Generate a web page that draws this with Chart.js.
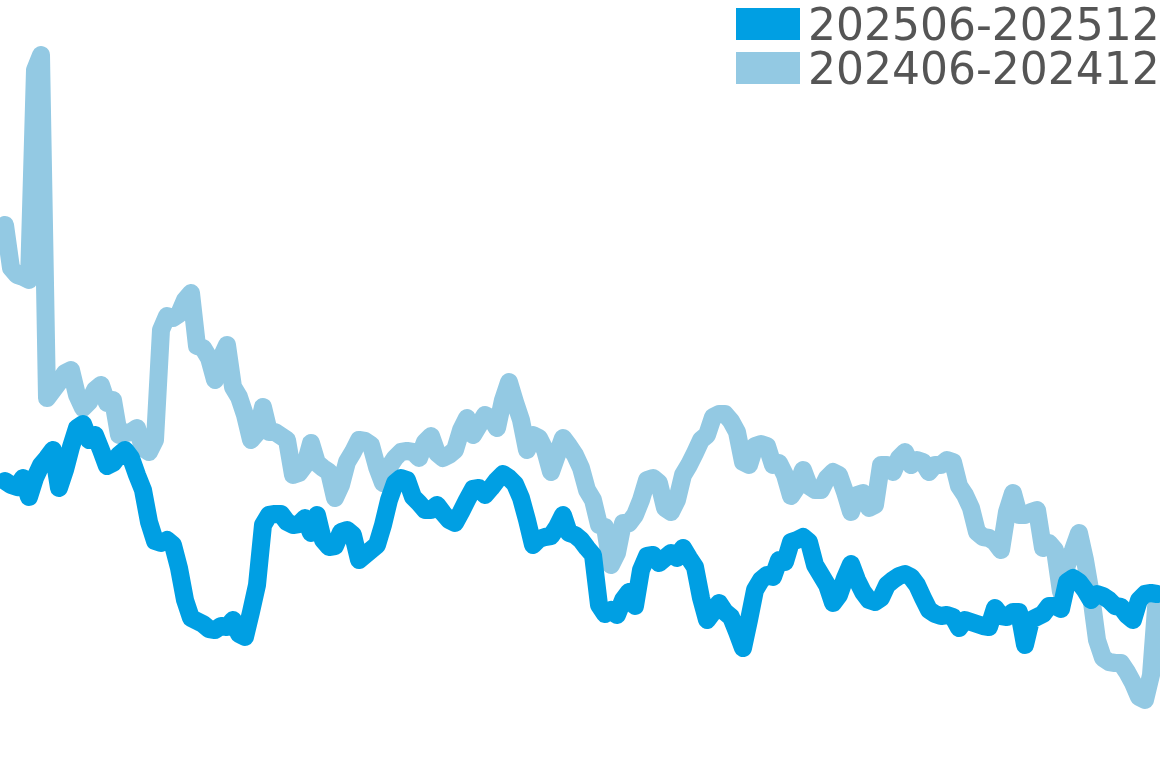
<!DOCTYPE html>
<html>
<head>
<meta charset="utf-8">
<title>202506-202512 vs 202406-202412</title>
<script src="https://cdn.jsdelivr.net/npm/chart.js@4.4.1/dist/chart.umd.min.js"></script>
<style>
    html, body { margin: 0; padding: 0; background: #fff; }
    #wrap { position: relative; width: 1160px; height: 768px; overflow: hidden; }
    #legend {
        position: absolute; left: 736px; top: 3px;
        font-family: "DejaVu Sans", sans-serif; font-size: 44px; color: #555;
    }
    .legend-row { position: relative; height: 44px; line-height: 44px; padding-left: 72px; white-space: nowrap; }
    .legend-box { position: absolute; left: 0; top: 5px; width: 64px; height: 32px; }
</style>
</head>
<body>
<div id="wrap">
    <canvas id="trendChart" width="1160" height="768"></canvas>
    <div id="legend"></div>
</div>
<script>
// 系列名
const seriesNames = ['202506-202512', '202406-202412'];

// 今期 (202506-202512)
const currentValues = [
    28.7, 28.3, 28.1, 29.0, 27.1, 29.0, 30.3, 31.0, 31.8, 28.0,
    29.8, 32.1, 34.0, 34.4, 32.8, 33.3, 31.8, 30.2, 30.5, 31.3,
    31.8, 31.0, 29.3, 27.8, 24.6, 22.7, 22.5, 22.8, 22.3, 20.0,
    16.8, 15.0, 14.7, 14.4, 13.9, 13.8, 14.2, 14.1, 14.8, 13.4,
    13.1, 15.6, 18.3, 24.3, 25.3, 25.4, 25.4, 24.6, 24.3, 24.4,
    25.0, 23.5, 25.3, 22.8, 22.1, 22.2, 23.6, 23.8, 23.3, 20.8,
    21.3, 21.8, 22.3, 24.3, 26.8, 28.5, 29.0, 28.8, 27.1, 26.5,
    25.8, 25.8, 26.3, 25.5, 24.8, 24.5, 25.6, 26.8, 27.9, 28.0,
    27.3, 28.0, 28.8, 29.4, 29.0, 28.4, 27.0, 24.8, 22.3, 22.9,
    23.1, 23.2, 24.1, 25.3, 23.5, 23.3, 22.8, 22.0, 21.3, 16.3,
    15.4, 15.8, 15.3, 16.8, 17.6, 16.2, 19.8, 21.2, 21.3, 20.5,
    21.0, 21.5, 21.0, 22.0, 21.0, 20.1, 17.0, 14.8, 15.6, 16.5,
    15.6, 15.1, 13.6, 12.0, 14.8, 17.8, 18.8, 19.3, 19.1, 20.8,
    20.6, 22.6, 22.8, 23.1, 22.6, 20.3, 19.3, 18.3, 16.5, 17.3,
    19.0, 20.4, 18.8, 17.6, 16.8, 16.6, 17.0, 18.3, 18.8, 19.2,
    19.4, 19.1, 18.3, 17.0, 15.8, 15.4, 15.2, 15.3, 15.1, 14.0,
    14.8, 14.6, 14.4, 14.2, 14.1, 16.0, 15.2, 15.1, 15.6, 15.6,
    12.3, 14.8, 15.1, 15.4, 16.2, 16.2, 15.9, 18.6, 19.0, 18.6,
    17.8, 16.8, 17.4, 17.2, 16.8, 16.2, 16.1, 15.3, 14.8, 16.8,
    17.4, 17.5, 17.4
];

// 前年同期 (202406-202412)
const previousValues = [
    54.3, 50.0, 49.3, 49.1, 48.8, 69.8, 71.3, 37.0, 37.8, 38.6,
    39.5, 39.8, 37.3, 36.0, 36.6, 37.8, 38.3, 36.5, 36.8, 33.3,
    33.5, 33.6, 34.0, 32.0, 31.6, 32.8, 43.8, 45.2, 45.0, 45.4,
    46.8, 47.5, 42.2, 42.0, 41.0, 38.8, 41.0, 42.3, 38.1, 37.1,
    35.3, 32.8, 33.5, 36.1, 33.6, 33.6, 33.2, 32.8, 29.3, 29.5,
    30.3, 32.5, 30.5, 30.0, 29.6, 27.0, 28.3, 30.6, 31.6, 32.8,
    32.7, 32.3, 30.1, 28.5, 30.1, 31.0, 31.6, 31.7, 31.6, 31.0,
    32.6, 33.2, 31.5, 31.0, 31.3, 31.8, 33.8, 35.0, 33.3, 34.3,
    35.3, 35.0, 34.0, 36.8, 38.6, 36.6, 34.8, 31.8, 33.3, 33.0,
    31.8, 29.6, 31.3, 33.0, 32.2, 31.3, 30.0, 27.8, 26.8, 24.3,
    24.1, 20.3, 21.5, 24.5, 24.5, 25.3, 26.8, 28.8, 29.0, 28.5,
    26.0, 25.6, 26.8, 29.3, 30.3, 31.5, 32.8, 33.3, 35.1, 35.4,
    35.4, 34.7, 33.6, 30.6, 30.3, 32.2, 32.4, 32.2, 30.3, 30.5,
    29.3, 27.2, 28.1, 29.8, 28.2, 27.8, 27.8, 29.0, 29.6, 29.3,
    27.6, 25.6, 27.3, 27.5, 26.0, 26.3, 30.3, 30.3, 29.6, 31.0,
    31.6, 30.3, 30.8, 30.6, 29.6, 30.3, 30.3, 30.8, 30.6, 28.2,
    27.3, 26.0, 23.6, 23.1, 23.0, 22.6, 21.8, 25.6, 27.5, 25.3,
    25.3, 25.6, 25.8, 22.0, 22.5, 21.8, 17.6, 20.3, 21.8, 23.5,
    20.8, 17.3, 12.8, 11.0, 10.6, 10.5, 10.5, 9.6, 8.5, 7.1,
    6.8, 9.3, 17.3
];

// 日付ラベル (軸は非表示)
const dayLabels = currentValues.map((_, i) => 'day ' + (i + 1));

const seriesColors = ['#009FE3', '#93C9E3'];

(function() {
    const datasets = [currentValues, previousValues].map((values, i) => ({
        label: seriesNames[i],
        data: values,
        borderColor: seriesColors[i],
        backgroundColor: seriesColors[i],
        borderWidth: 18,
        borderJoinStyle: 'round',
        borderCapStyle: 'round',
        pointRadius: 0,
        tension: 0,
        clip: false
    }));

    const ctx = document.getElementById('trendChart').getContext('2d');
    const chart = new Chart(ctx, {
        type: 'line',
        data: { labels: dayLabels, datasets: datasets },
        options: {
            responsive: false,
            animation: false,
            devicePixelRatio: 1,
            layout: { padding: { left: 5, right: 3, top: 0, bottom: 0 } },
            scales: {
                x: { display: false },
                y: { display: false, min: 0, max: 76.8 }
            },
            plugins: {
                legend: { display: false },
                tooltip: { enabled: false }
            }
        }
    });

    // 凡例はHTMLで右上に描く
    const legend = document.getElementById('legend');
    chart.data.datasets.forEach(ds => {
        const row = document.createElement('div');
        row.className = 'legend-row';
        row.innerHTML = `<span class="legend-box" style="background:${ds.borderColor}"></span>`;
        row.appendChild(document.createTextNode(ds.label));
        legend.appendChild(row);
    });
})();
</script>
</body>
</html>
